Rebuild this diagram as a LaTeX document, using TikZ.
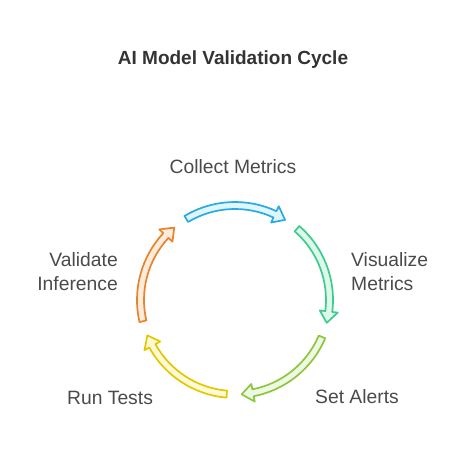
\documentclass[tikz,border=0pt]{standalone}
\usepackage{fontspec}
\setmainfont{Liberation Sans}
\usetikzlibrary{calc}
\definecolor{txt}{HTML}{4A4A4A}
\definecolor{ttl}{HTML}{333333}
\definecolor{blueS}{HTML}{29ABE2}
\definecolor{blueF}{HTML}{E1F5FC}
\definecolor{greenS}{HTML}{3ECB8B}
\definecolor{greenF}{HTML}{DEF8EC}
\definecolor{limeS}{HTML}{8DC63F}
\definecolor{limeF}{HTML}{EFF8E2}
\definecolor{yellowS}{HTML}{E3C800}
\definecolor{yellowF}{HTML}{FFF9D8}
\definecolor{orangeS}{HTML}{E8842C}
\definecolor{orangeF}{HTML}{FDEBDC}
\tikzset{
  lbl/.style={font=\fontsize{19.3}{24.5}\selectfont, text=txt, inner sep=0pt},
  ttlstyle/.style={font=\fontsize{19}{22}\selectfont\bfseries, text=ttl, inner sep=0pt},
  arrowshape/.style={line width=1.7pt, line join=round},
}
% #1 centre angle, #2 stroke, #3 fill
\newcommand{\cyclearrow}[3]{%
  \pgfmathsetmacro{\sa}{#1+31}%
  \pgfmathsetmacro{\ta}{#1-32}%
  \pgfmathsetmacro{\ba}{#1-25}%
  \draw[arrowshape, draw=#2, fill=#3]
    (\sa:91) arc[start angle=\sa, end angle=\ba, radius=91]
    -- (\ba:85.5) -- (\ta:94.5) -- (\ba:103.5) -- (\ba:98)
    arc[start angle=\ba, end angle=\sa, radius=98] -- cycle;
}
\begin{document}
\begin{tikzpicture}[x=1pt,y=1pt]
\useasboundingbox (0,0) rectangle (468,456);
\node[ttlstyle] (title) at (233,396) {AI Model Validation Cycle};
\begin{scope}[shift={(235,156)}]
  \cyclearrow{90}{blueS}{blueF}
  \cyclearrow{18}{greenS}{greenF}
  \cyclearrow{-54}{limeS}{limeF}
  \cyclearrow{-126}{yellowS}{yellowF}
  \cyclearrow{162}{orangeS}{orangeF}
\end{scope}
\node[lbl] (collect) at (233,289) {Collect Metrics};
\node[lbl, anchor=west, align=left] (visual) at (351,184.5) {Visualize\\Metrics};
\node[lbl, anchor=east, align=right] (validate) at (118,184.5) {Validate\\Inference};
\node[lbl] (run) at (110,58) {Run Tests};
\node[lbl] (alerts) at (357,59) {Set Alerts};
\end{tikzpicture}
\end{document}
